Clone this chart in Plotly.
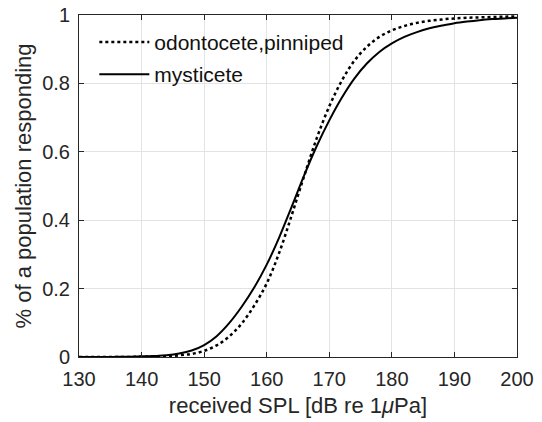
import plotly.graph_objects as go

# Received SPL (dB re 1 µPa)
spl = [130, 132, 134, 136, 138, 140, 142, 144, 146, 148, 150, 152, 154, 156, 158,
       160, 162, 164, 166, 168, 170, 172, 174, 176, 178, 180, 182, 184, 186, 188,
       190, 192, 194, 196, 198, 200]

# fraction responding
odontocete_pinniped = [0.000, 0.000, 0.000, 0.000, 0.000, 0.001, 0.001, 0.002, 0.005, 0.009,
                       0.018, 0.034, 0.060, 0.098, 0.150, 0.215, 0.305, 0.415, 0.530, 0.640,
                       0.733, 0.808, 0.866, 0.907, 0.936, 0.955, 0.968, 0.977, 0.983, 0.987,
                       0.990, 0.992, 0.993, 0.994, 0.995, 0.996]

mysticete = [0.000, 0.000, 0.000, 0.0005, 0.001, 0.002, 0.003, 0.005, 0.010, 0.019,
             0.035, 0.061, 0.099, 0.147, 0.203, 0.270, 0.350, 0.440, 0.532, 0.617,
             0.692, 0.758, 0.814, 0.858, 0.892, 0.917, 0.936, 0.950, 0.961, 0.969,
             0.976, 0.981, 0.985, 0.988, 0.990, 0.992]

x_ticks = [130, 140, 150, 160, 170, 180, 190, 200]
y_ticks = [0, 0.2, 0.4, 0.6, 0.8, 1]
y_tick_labels = ["0", "0.2", "0.4", "0.6", "0.8", "1"]

FONT = "Liberation Sans, Arial, Helvetica, sans-serif"
TXT = "#262626"

fig = go.Figure()
fig.add_trace(go.Scatter(x=spl, y=odontocete_pinniped, mode="lines",
                         name="odontocete,pinniped", legendgroup="a",
                         line=dict(color="black", width=2.5, dash="dot", shape="spline")))
fig.add_trace(go.Scatter(x=spl, y=mysticete, mode="lines", name="mysticete",
                         legendgroup="b",
                         line=dict(color="black", width=2, shape="spline")))

axis_common = dict(showline=True, linecolor=TXT, linewidth=1, mirror="allticks",
                   ticks="inside", ticklen=5, tickcolor=TXT, showgrid=True,
                   gridcolor="#e3e3e3", gridwidth=1, zeroline=False,
                   automargin=False,
                   tickfont=dict(family=FONT, size=20, color=TXT))

fig.update_layout(
    width=542, height=422,
    margin=dict(l=79, r=25, t=15, b=65),
    paper_bgcolor="white", plot_bgcolor="white",
    font=dict(family=FONT, size=20, color=TXT),
    showlegend=True,
    legend=dict(x=0.035, y=0.98, xanchor="left", yanchor="top",
                bgcolor="rgba(0,0,0,0)", borderwidth=0,
                font=dict(family=FONT, size=21, color="#111111"),
                itemwidth=50, tracegroupgap=2),
    xaxis=dict(range=[130, 200], tickvals=x_ticks, ticklabelstandoff=4,
               title=dict(text="received SPL [dB re 1<i>μ</i>Pa]", standoff=8,
                          font=dict(family=FONT, size=22, color=TXT)),
               **axis_common),
    yaxis=dict(range=[0, 1], tickvals=y_ticks, ticktext=y_tick_labels,
               ticklabelstandoff=4,
               title=dict(text="% of a population responding", standoff=4,
                          font=dict(family=FONT, size=22, color=TXT)),
               **axis_common),
)

fig.write_html("out.html")
